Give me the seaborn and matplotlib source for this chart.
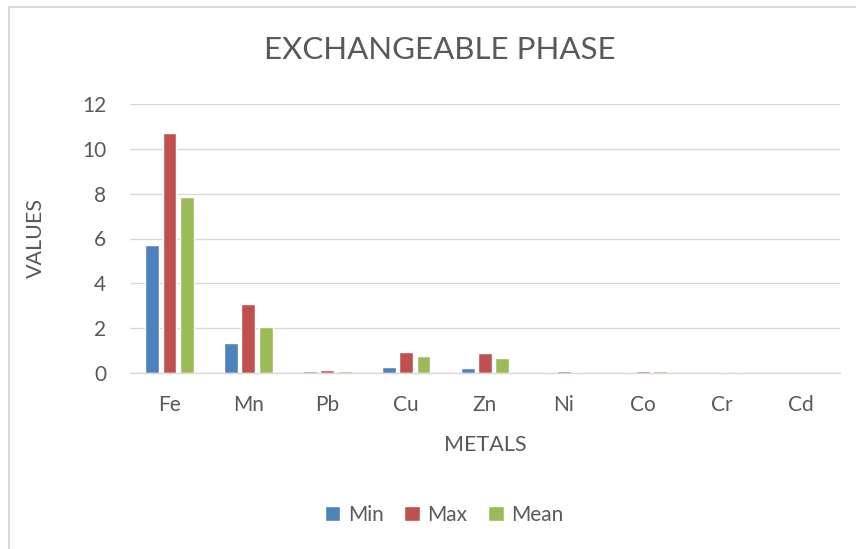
import matplotlib
matplotlib.use("Agg")
import matplotlib.pyplot as plt
import seaborn as sns
import pandas as pd
from matplotlib.patches import Rectangle

metals = ["Fe", "Mn", "Pb", "Cu", "Zn", "Ni", "Co", "Cr", "Cd"]
min_vals = [5.71, 1.34, 0.07, 0.27, 0.22, 0.04, 0.04, 0.01, 0.005]
max_vals = [10.72, 3.10, 0.13, 0.94, 0.87, 0.11, 0.09, 0.04, 0.008]
mean_vals = [7.86, 2.05, 0.10, 0.75, 0.67, 0.06, 0.07, 0.03, 0.006]
series = ["Min", "Max", "Mean"]
colors = ["#4F81BD", "#C0504D", "#9BBB59"]
yticks = [0, 2, 4, 6, 8, 10, 12]

rows = []
for name, vals in zip(series, [min_vals, max_vals, mean_vals]):
    for m, v in zip(metals, vals):
        rows.append({"Metal": m, "Series": name, "Value": v})
df = pd.DataFrame(rows)

sns.set_theme(style="white")
plt.rcParams["font.family"] = ["Lato", "DejaVu Sans"]
txt = "#595959"

fig = plt.figure(figsize=(8.56, 5.49), dpi=100)
ax = fig.add_axes([130 / 856, 1 - 373 / 549, (840 - 130) / 856, (373 - 104) / 549])

sns.barplot(data=df, x="Metal", y="Value", hue="Series", order=metals,
            hue_order=series, palette=colors, width=0.66, gap=0.2,
            saturation=1, ax=ax, legend=True, errorbar=None)

ax.set_ylim(0, 12)
ax.set_yticks(yticks)
ax.set_yticklabels([str(t) for t in yticks], fontsize=15, color=txt)
ax.tick_params(axis="x", labelsize=15, colors=txt, length=0, pad=16)
ax.tick_params(axis="y", length=0, pad=17)
ax.yaxis.grid(True, color="#D9D9D9", linewidth=1)
ax.set_axisbelow(True)
for s in ["top", "right", "left"]:
    ax.spines[s].set_visible(False)
ax.spines["bottom"].set_color("#D9D9D9")
ax.spines["bottom"].set_linewidth(1)

ax.set_xlabel("METALS", fontsize=15.5, color=txt, labelpad=14)
ax.set_ylabel("VALUES", fontsize=15.5, color=txt, labelpad=26)
fig.text(440 / 856, 1 - 50 / 549, "EXCHANGEABLE PHASE",
         ha="center", va="center", fontsize=22.5, color=txt)

handles, labels = ax.get_legend_handles_labels()
ax.legend_.remove()
fig.legend(handles, labels, loc="center", bbox_to_anchor=(444 / 856, 1 - 515 / 549),
           ncol=3, frameon=False, fontsize=15, handlelength=0.75, handleheight=0.75,
           columnspacing=1.0, handletextpad=0.35, labelcolor=txt)

fig.patches.append(Rectangle((9 / 856, -0.05), 1.0, 1 - 7 / 549 + 0.05,
                             transform=fig.transFigure, fill=False,
                             edgecolor="#D9D9D9", linewidth=1.5))

fig.savefig("out.png", dpi=100)
